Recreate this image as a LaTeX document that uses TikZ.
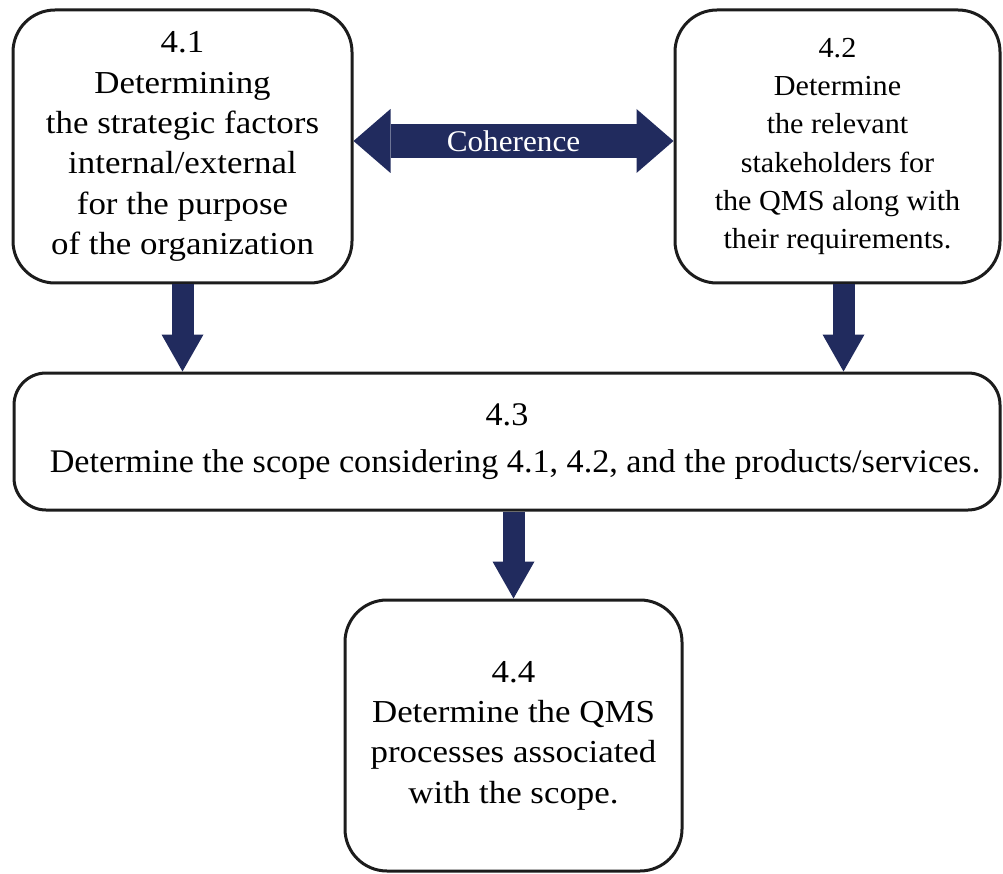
\documentclass[tikz,border=0pt]{standalone}
\usepackage{fontspec}
\setmainfont{Liberation Serif}
\newfontfamily\widefont[FakeStretch=1.09]{Liberation Serif}
\newfontfamily\narrowfont[FakeStretch=1.04]{Liberation Serif}
\newfontfamily\scopefont[FakeStretch=1.035]{Liberation Serif}
\usetikzlibrary{arrows.meta}
\definecolor{navy}{HTML}{212B5E}
\definecolor{edge}{HTML}{1C1C1C}
\begin{document}
\begin{tikzpicture}[x=1pt,y=-1pt,
  box/.style={draw=edge, line width=3pt, rounded corners=42pt, align=center,
    inner sep=0pt, font=\widefont\fontsize{32}{40.3}\selectfont},
  fatarrow/.style={draw=navy, line width=22pt,
    -{Triangle[length=37pt,width=42pt,line width=0pt]}},
  linkarrow/.style={draw=navy, line width=34pt,
    {Triangle[length=37pt,width=64pt,line width=0pt]}-{Triangle[length=37pt,width=64pt,line width=0pt]}},
]
\useasboundingbox (0,0) rectangle (1003,874);

% the four steps
\node[box, minimum width=339pt, minimum height=273pt] (n41) at (182.5,146.5)
  {4.1\\Determining\\the strategic factors\\internal/external\\for the purpose\\of the organization};
\node[box, minimum width=325pt, minimum height=273pt,
  font=\narrowfont\fontsize{29}{38.3}\selectfont] (n42) at (837.5,146.5)
  {\raisebox{-3pt}{\parbox{300pt}{\centering 4.2\\Determine\\the relevant\\stakeholders for\\the QMS along with\\their requirements.}}};
\node[box, rounded corners=32pt, minimum width=986pt, minimum height=137pt,
  font=\scopefont\fontsize{33}{47}\selectfont] (n43) at (507,441.5)
  {\raisebox{-3pt}{\parbox{960pt}{\centering 4.3\\\hspace*{16pt}Determine the scope considering 4.1, 4.2, and the products/services.}}};
\node[box, minimum width=337pt, minimum height=271pt] (n44) at (513.5,735.5)
  {\raisebox{-5pt}{\parbox{320pt}{\centering 4.4\\Determine the QMS\\processes associated\\with the scope.}}};

% links between the steps
\draw[linkarrow] ([yshift=5.5pt]n41.east) -- ([yshift=5.5pt]n42.west)
  node[midway, text=white, font=\narrowfont\fontsize{30}{30}\selectfont] {Coherence};
\draw[fatarrow] (n41.south) -- (n41.south |- n43.north);
\draw[fatarrow] ([xshift=6pt]n42.south) -- ([xshift=6pt]n42.south |- n43.north);
\draw[fatarrow] (n43.south -| n44.north) -- (n44.north);
\end{tikzpicture}
\end{document}
